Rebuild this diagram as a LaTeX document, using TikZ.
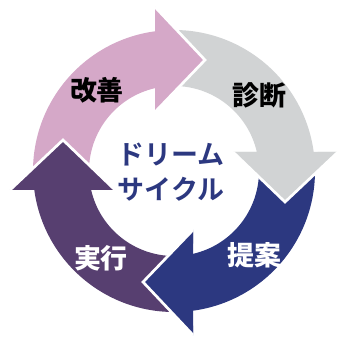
\documentclass[tikz,border=0pt]{standalone}
\usepackage{fontspec}
\newfontfamily\jpfont{Noto Sans CJK JP}[BoldFont={Noto Sans CJK JP Bold}]
\newfontfamily\jpheavy{Noto Sans CJK JP Black}
\usetikzlibrary{math}
\definecolor{kaizencol}{RGB}{213,168,200}
\definecolor{shindancol}{RGB}{209,211,212}
\definecolor{teiancol}{RGB}{44,56,128}
\definecolor{jikkocol}{RGB}{87,63,112}
\tikzset{
    headedge/.style={draw=white, line width=2.3pt, line join=miter},
    steptext/.style={font=\jpheavy\fontsize{23}{23}\selectfont, inner sep=0pt},
}

% one ring segment with its arrow head, drawn for the top position and rotated
\newcommand\arrowbody[2]{%
  \fill[#1, rotate=#2] (180:\outr) arc (180:\aout:\outr) -- (\baseoff,\headout)
    -- (\tipoff,\headtip) -- (\baseoff,\headin) -- (\ain:\innr) arc (\ain:180:\innr) -- cycle;}
\newcommand\arrowtip[2]{%
  \fill[#1, rotate=#2] (\baseoff,\headout) -- (\tipoff,\headtip) -- (\baseoff,\headin) -- cycle;
  \draw[headedge, rotate=#2] (\baseoff,\headout) -- (\tipoff,\headtip) -- (\baseoff,\headin);}

\begin{document}
\begin{tikzpicture}[
    x=0.3mm, y=0.3mm,
  ]

  \tikzmath{
    \outr    = 141; % outer radius of the ring
    \innr    = 85;  % inner radius of the ring
    \headout = 164; % outer corner of the arrow head
    \headin  = 59;  % inner corner of the arrow head
    \headtip = 111; % height of the tip
    \baseoff = -19; % base line of the head
    \tipoff  = 31;  % tip of the head
    \aout = acos(\baseoff/\outr);
    \ain  = acos(\baseoff/\innr);
  }

  \useasboundingbox (-174,-169) rectangle (162,171);

  % ----------
  % Ring parts
  % ----------
  \arrowbody{kaizencol}{0}
  \arrowbody{shindancol}{-90}
  \arrowbody{teiancol}{-180}
  \arrowbody{jikkocol}{-270}

  % heads on top of the next tail
  \arrowtip{kaizencol}{0}
  \arrowtip{shindancol}{-90}
  \arrowtip{teiancol}{-180}
  \arrowtip{jikkocol}{-270}

  % ------
  % Labels
  % ------
  \node[steptext] (kaizen)  at (-77,81)  {改善};
  \node[steptext] (shindan) at (85,76)   {診断};
  \node[steptext, text=white] (teian) at (80,-84)  {提案};
  \node[steptext, text=white] (jikko) at (-73,-87) {実行};

  \node[steptext, text=teiancol, align=center, font=\jpfont\bfseries\fontsize{23}{30}\selectfont]
    (cycle) at (-3,-1.5) {ドリーム\\サイクル};

\end{tikzpicture}
\end{document}
